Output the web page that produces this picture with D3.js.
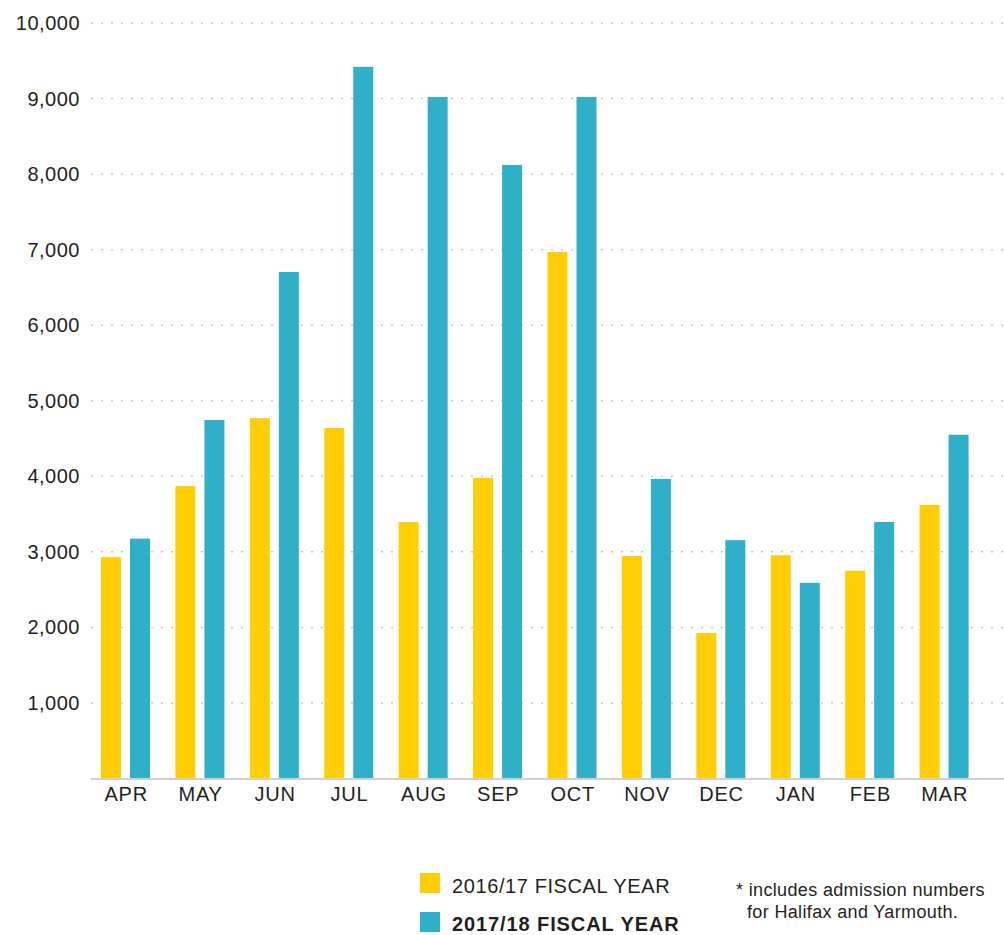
<!DOCTYPE html>
<html>
<head>
<meta charset="utf-8">
<script src="https://cdn.jsdelivr.net/npm/d3@7"></script>
<style>
  body { margin: 0; background: #fff; }
  svg text { font-family: "Liberation Sans", Arial, Helvetica, sans-serif; fill: #231f20; }
</style>
</head>
<body>
<div id="chart"></div>
<script>
const months = ['APR', 'MAY', 'JUN', 'JUL', 'AUG', 'SEP', 'OCT', 'NOV', 'DEC', 'JAN', 'FEB', 'MAR'];
const fy2016 = [2930, 3870, 4770, 4640, 3395, 3980, 6970, 2945, 1925, 2955, 2750, 3620];
const fy2017 = [3175, 4745, 6705, 9420, 9020, 8120, 9020, 3965, 3155, 2590, 3395, 4550];
const yTicks = [1000, 2000, 3000, 4000, 5000, 6000, 7000, 8000, 9000, 10000];
const seriesNames = ['2016/17 FISCAL YEAR', '2017/18 FISCAL YEAR'];
const colors = ['#ffce06', '#30afc9'];

const w = 1004;
const h = 935;

const svg = d3.select('#chart')
    .append('svg')
    .attr('width', w)
    .attr('height', h);

const xScale = d3.scaleBand()
    .domain(months)
    .range([89, 982]);

const yScale = d3.scaleLinear()
    .domain([0, 10000])
    .range([778.5, 23]);

// gridlines
svg.append('g')
    .selectAll('line')
    .data(yTicks)
    .enter()
    .append('line')
    .attr('x1', 91)
    .attr('x2', w)
    .attr('y1', d => yScale(d))
    .attr('y2', d => yScale(d))
    .attr('stroke', '#c8c8c8')
    .attr('stroke-width', 1.5)
    .attr('stroke-dasharray', '2,8');

// y labels
svg.append('g')
    .selectAll('text')
    .data(yTicks)
    .enter()
    .append('text')
    .attr('x', 80)
    .attr('y', d => yScale(d) + 7)
    .attr('text-anchor', 'end')
    .attr('font-size', 20)
    .attr('letter-spacing', 0.5)
    .text(d => d3.format(',')(d));

// bars
const series = [fy2016, fy2017];
series.forEach((vals, i) => {
    svg.append('g')
        .selectAll('rect')
        .data(vals)
        .enter()
        .append('rect')
        .attr('x', (d, j) => xScale(months[j]) + 12 + i * 29)
        .attr('y', d => yScale(d))
        .attr('width', 20)
        .attr('height', d => yScale(0) - yScale(d))
        .attr('fill', colors[i]);
});

// baseline
svg.append('line')
    .attr('x1', 91)
    .attr('x2', w)
    .attr('y1', yScale(0) + 0.5)
    .attr('y2', yScale(0) + 0.5)
    .attr('stroke', '#d0d0d0')
    .attr('stroke-width', 2);

// x labels
const xAxis = d3.axisBottom(xScale).tickSize(0).tickPadding(0);
const gx = svg.append('g')
    .attr('transform', 'translate(0,' + 786 + ')')
    .call(xAxis);
gx.select('.domain').remove();
gx.selectAll('text')
    .attr('dy', '0.75em')
    .attr('font-size', 20)
    .attr('letter-spacing', 0.8)
    .attr('font-family', '"Liberation Sans", Arial, sans-serif')
    .attr('fill', '#231f20');

// legend
const legend = svg.append('g');
seriesNames.forEach((name, i) => {
    legend.append('rect')
        .attr('x', 420)
        .attr('y', 873 + i * 39)
        .attr('width', 20)
        .attr('height', 20)
        .attr('fill', colors[i]);
    legend.append('text')
        .attr('x', 452)
        .attr('y', 893 + i * 38)
        .attr('font-size', 20)
        .attr('letter-spacing', i === 1 ? 0.9 : 0.6)
        .attr('font-weight', i === 1 ? 'bold' : 'normal')
        .text(name);
});

svg.append('text')
    .attr('x', 736)
    .attr('y', 896)
    .attr('font-size', 18)
    .attr('letter-spacing', 0.35)
    .text('* includes admission numbers');

svg.append('text')
    .attr('x', 747)
    .attr('y', 918)
    .attr('font-size', 18)
    .attr('letter-spacing', 0.35)
    .text('for Halifax and Yarmouth.');
</script>
</body>
</html>
